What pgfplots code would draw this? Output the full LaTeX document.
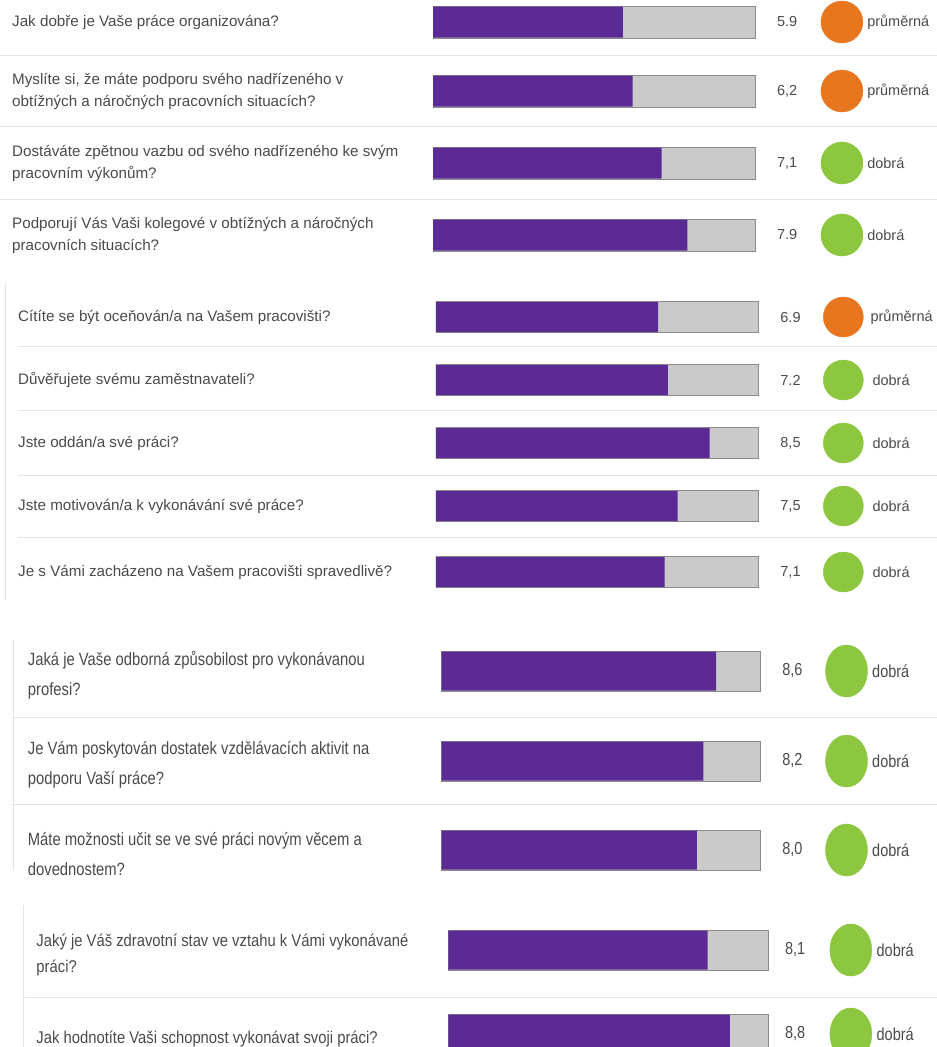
\documentclass[border=0pt]{standalone}
\usepackage{pgfplots}
\pgfplotsset{compat=1.18}
\usepackage{fontspec}
\setmainfont{Liberation Sans}
\definecolor{barPurple}{HTML}{5B2A94}
\definecolor{barGray}{HTML}{CACACA}
\definecolor{barEdge}{HTML}{8A8A8A}
\definecolor{dotOrange}{HTML}{E8761E}
\definecolor{dotGreen}{HTML}{8DC63F}
\definecolor{txt}{HTML}{4A4A4A}
\definecolor{sep}{HTML}{E4E4E4}
\pgfplotsset{
  panel/.style={
    scale only axis, clip=false, y dir=reverse,
    xmin=0, xmax=10, axis line style={draw=none},
    xtick=\empty, major tick length=0pt,
    yticklabel style={anchor=west, align=left, inner sep=0pt, text=txt,
      font=\fontsize{15.2}{22}\selectfont},
  },
  bg/.style={xbar, bar shift=0pt, fill=barGray, draw=barEdge, line width=0.8pt},
  fg/.style={xbar, bar shift=0pt, fill=barPurple, draw=none},
  lab/.style={only marks, mark=none, nodes near coords, point meta=explicit symbolic,
    every node near coord/.append style={anchor=west, inner sep=0pt, text=txt,
      font=\fontsize{14.5}{18}\selectfont}},
  dot/.style={only marks, mark=*, mark size=#1, mark options={draw=none}},
}
\begin{document}
\begin{tikzpicture}
\useasboundingbox (0pt,0pt) rectangle (937pt,-1047pt);
% separators
\foreach \yy in {55,126,199} \draw[sep, line width=1pt] (0pt,-\yy pt) -- (937pt,-\yy pt);
\foreach \yy in {346,410,475,537} \draw[sep, line width=1pt] (18pt,-\yy pt) -- (937pt,-\yy pt);
\foreach \yy in {717,804} \draw[sep, line width=1pt] (12pt,-\yy pt) -- (937pt,-\yy pt);
\foreach \yy in {997} \draw[sep, line width=1pt] (25pt,-\yy pt) -- (937pt,-\yy pt);
\draw[sep, line width=1pt] (5pt,-283pt) -- (5pt,-600pt);
\draw[sep, line width=1pt] (13pt,-640pt) -- (13pt,-870pt);
\draw[sep, line width=1pt] (23pt,-905pt) -- (23pt,-1047pt);

% Panel 1
\begin{axis}[panel, at={(433pt,0pt)}, anchor=north west, width=322pt, height=265pt,
  ymin=0, ymax=265, ytick={22,91,163,235},
  yticklabel style={xshift=-421pt},
  yticklabels={Jak dobře je Vaše práce organizována?,
  {Myslíte si, že máte podporu svého nadřízeného v\\obtížných a náročných pracovních situacích?},
  {Dostáváte zpětnou vazbu od svého nadřízeného ke svým\\pracovním výkonům?},
  {Podporují Vás Vaši kolegové v obtížných a náročných\\pracovních situacích?}}]
\addplot[bg, bar width=32] coordinates {(10,22) (10,91) (10,163) (10,235)};
\addplot[fg, bar width=31] coordinates {(5.9,22) (6.2,91) (7.1,163) (7.9,235)};
\addplot[dot=21pt, color=dotOrange] coordinates {(12.70,22) (12.70,91)};
\addplot[dot=21pt, color=dotGreen] coordinates {(12.70,163) (12.70,235)};
\addplot[lab] table[meta=l] {
x y l
10.68 22 5.9
10.68 91 6,2
10.68 163 7,1
10.68 235 7.9
};
\addplot[lab] table[meta=l] {
x y l
13.48 22 průměrná
13.48 91 průměrná
13.48 163 dobrá
13.48 235 dobrá
};
\end{axis}

% Panel 2
\begin{axis}[panel, at={(436pt,-280pt)}, anchor=north west, width=322pt, height=320pt,
  ymin=280, ymax=600, ytick={317,380,443,506,572},
  yticklabel style={xshift=-418pt},
  yticklabels={Cítíte se být oceňován/a na Vašem pracovišti?,
  Důvěřujete svému zaměstnavateli?,
  Jste oddán/a své práci?,
  Jste motivován/a k vykonávání své práce?,
  Je s Vámi zacházeno na Vašem pracovišti spravedlivě?}]
\addplot[bg, bar width=31] coordinates {(10,317) (10,380) (10,443) (10,506) (10,572)};
\addplot[fg, bar width=30] coordinates {(6.9,317) (7.2,380) (8.5,443) (7.5,506) (7.1,572)};
\addplot[dot=20pt, color=dotOrange] coordinates {(12.65,317)};
\addplot[dot=20pt, color=dotGreen] coordinates {(12.65,380) (12.65,443) (12.65,506) (12.65,572)};
\addplot[lab] table[meta=l] {
x y l
10.69 317 6.9
10.69 380 7.2
10.69 443 8,5
10.69 506 7,5
10.69 572 7,1
};
\addplot[lab] table[meta=l] {
x y l
13.49 317 průměrná
13.55 380 dobrá
13.55 443 dobrá
13.55 506 dobrá
13.55 572 dobrá
};
\end{axis}

% Panel 3
\begin{axis}[panel, at={(441.7pt,-625pt)}, anchor=north west, width=319pt, height=260pt,
  ymin=625, ymax=885, ytick={671,761,850},
  yticklabel style={xshift=-414pt, yshift=-4pt, yscale=1.2, font=\fontsize{14.8}{25}\selectfont},
  yticklabels={{Jaká je Vaše odborná způsobilost pro vykonávanou\\profesi?},
  {Je Vám poskytován dostatek vzdělávacích aktivit na\\podporu Vaší práce?},
  {Máte možnosti učit se ve své práci novým věcem a\\dovednostem?}}]
\addplot[bg, bar width=40] coordinates {(10,671) (10,761) (10,850)};
\addplot[fg, bar width=39] coordinates {(8.6,671) (8.2,761) (8.0,850)};
\addplot[dot=21pt, color=dotGreen, mark options={yscale=1.24}] coordinates {(12.69,671) (12.69,761) (12.69,850)};
\addplot[lab, every node near coord/.append style={yscale=1.2}] table[meta=l] {
x y l
10.67 671 8,6
10.67 761 8,2
10.67 850 8,0
};
\addplot[lab, every node near coord/.append style={yscale=1.2}] table[meta=l] {
x y l
13.49 671 dobrá
13.49 761 dobrá
13.49 850 dobrá
};
\end{axis}

% Panel 4
\begin{axis}[panel, at={(448.3pt,-900pt)}, anchor=north west, width=320pt, height=147pt,
  ymin=900, ymax=1047, ytick={950,1034},
  yticklabel style={xshift=-412pt, yshift=-5pt, yscale=1.15, font=\fontsize{14.8}{22}\selectfont},
  yticklabels={{Jaký je Váš zdravotní stav ve vztahu k Vámi vykonávané\\práci?},
  Jak hodnotíte Vaši schopnost vykonávat svoji práci?}]
\addplot[bg, bar width=40] coordinates {(10,950) (10,1034)};
\addplot[fg, bar width=39] coordinates {(8.1,950) (8.8,1034)};
\addplot[dot=21pt, color=dotGreen, mark options={yscale=1.24}] coordinates {(12.58,950) (12.58,1034)};
\addplot[lab, every node near coord/.append style={yscale=1.2}] table[meta=l] {
x y l
10.52 950 8,1
10.52 1034 8,8
};
\addplot[lab, every node near coord/.append style={yscale=1.2}] table[meta=l] {
x y l
13.38 950 dobrá
13.38 1034 dobrá
};
\end{axis}
\end{tikzpicture}
\end{document}
